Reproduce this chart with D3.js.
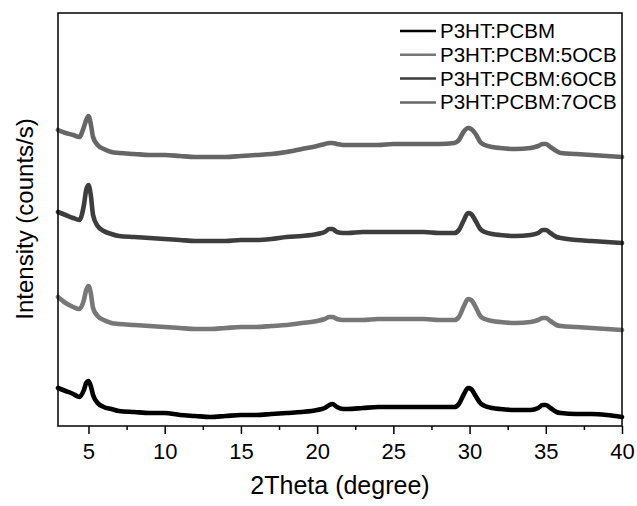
<!DOCTYPE html>
<html>
  <head>
    <meta charset="utf-8">
    <style>
      body { margin: 0; background: #fff; }
      text { font-family: "Liberation Sans", Arial, sans-serif; fill: #000; }
      .line { fill: none; stroke-width: 4.6px; stroke-linejoin: round; stroke-linecap: round; }
      .axis path { display: none; }
      .tick line { stroke: #000; stroke-width: 1.5px; }
    </style>
  </head>
  <body>
    <div id="chart"></div>
    <script src="https://d3js.org/d3.v7.min.js"></script>
    <script>
      // 2theta positions (degree)
      var twoTheta = [3, 3.5, 4, 4.4, 4.7, 4.85, 5, 5.15, 5.3, 5.6,
        6, 6.5, 7, 8, 9, 10, 11, 12, 13, 14,
        15, 16, 17, 18, 19, 20, 20.5, 20.8, 21, 21.3,
        21.7, 22, 23, 24, 25, 26, 27, 28, 29, 29.3,
        29.6, 29.9, 30.1, 30.4, 30.7, 31, 31.5, 32, 33, 34,
        34.5, 34.8, 35, 35.3, 35.7, 36, 37, 38, 39, 40];

      // intensities (arbitrary, stacked offsets as in the figure)
      var p3htPcbm = [38, 35, 32, 29, 36, 43, 45, 40, 31, 23,
        19, 17, 15, 14, 13, 13, 11, 10, 9, 10,
        11, 11, 12, 13, 14, 16, 18, 21, 22, 19,
        17, 17, 18, 19, 19, 19, 19, 19, 19, 22,
        31, 38, 37, 30, 23, 20, 18, 17, 16, 16,
        18, 21, 21, 18, 14, 13, 12, 12, 11, 9];

      var ocb5 = [129, 123, 119, 117, 126, 136, 140, 133, 118, 110,
        106, 103, 102, 101, 100, 99, 98, 97, 97, 98,
        99, 99, 100, 101, 103, 105, 107, 109, 109, 107,
        106, 106, 106, 107, 107, 107, 107, 106, 106, 109,
        119, 127, 126, 119, 110, 107, 105, 104, 103, 104,
        106, 108, 108, 105, 101, 100, 99, 98, 97, 96];

      var ocb6 = [214, 211, 208, 206, 221, 236, 241, 231, 211, 200,
        195, 192, 190, 189, 188, 187, 186, 185, 185, 185,
        186, 186, 187, 189, 190, 192, 194, 197, 197, 194,
        193, 193, 194, 194, 194, 194, 194, 193, 193, 196,
        205, 213, 212, 205, 197, 194, 192, 191, 190, 191,
        193, 196, 196, 193, 189, 188, 186, 185, 184, 183];

      var ocb7 = [296, 293, 291, 289, 299, 306, 310, 302, 289, 281,
        277, 274, 273, 272, 271, 271, 270, 269, 269, 269,
        270, 271, 272, 274, 277, 280, 282, 283, 283, 282,
        281, 281, 281, 281, 282, 282, 282, 282, 283, 286,
        294, 298, 297, 292, 284, 281, 279, 278, 277, 278,
        280, 282, 282, 279, 275, 273, 272, 271, 270, 269];

      var seriesNames = ["P3HT:PCBM", "P3HT:PCBM:5OCB", "P3HT:PCBM:6OCB", "P3HT:PCBM:7OCB"];
      var seriesColors = ["#000000", "#777777", "#3d3d3d", "#666666"];
      var seriesValues = [p3htPcbm, ocb5, ocb6, ocb7];

      var majorTicks = [5, 10, 15, 20, 25, 30, 35, 40];
      var minorTicks = [7.5, 12.5, 17.5, 22.5, 27.5, 32.5, 37.5];

      var margin = { top: 13, right: 15, bottom: 80, left: 58 };
      var width = 637 - margin.left - margin.right;
      var height = 506 - margin.top - margin.bottom;

      var root = d3.select("#chart")
        .append("svg")
          .attr("width", 637)
          .attr("height", 506);

      var svg = root.append("g")
          .attr("transform", "translate(" + margin.left + "," + margin.top + ")");

      var x = d3.scaleLinear()
        .domain([3, 40])
        .range([0, width]);

      var y = d3.scaleLinear()
        .domain([0, 413])
        .range([height, 0]);

      // minor ticks
      svg.append("g")
        .attr("class", "axis")
        .attr("transform", "translate(0," + height + ")")
        .call(d3.axisBottom(x).tickValues(minorTicks).tickSize(4).tickFormat(""));

      // major ticks + labels
      svg.append("g")
        .attr("class", "axis")
        .attr("transform", "translate(0," + height + ")")
        .call(d3.axisBottom(x).tickValues(majorTicks).tickSize(8).tickPadding(9).tickFormat(d3.format("d")))
        .selectAll("text")
          .style("font-size", "22px");

      var line = d3.line()
        .x(function (d) { return x(d[0]); })
        .y(function (d) { return y(d[1]); })
        .curve(d3.curveMonotoneX);

      seriesValues.forEach(function (vals, i) {
        var pts = twoTheta.map(function (t, j) { return [t, vals[j]]; });
        svg.append("path")
          .datum(pts)
          .attr("class", "line")
          .attr("stroke", seriesColors[i])
          .attr("d", line);
      });

      // frame
      svg.append("rect")
        .attr("width", width)
        .attr("height", height)
        .attr("fill", "none")
        .attr("stroke", "#000")
        .attr("stroke-width", 1.5);

      // legend
      var legend = svg.append("g")
        .attr("transform", "translate(" + (400 - margin.left) + ",25)");

      legend.selectAll("line")
        .data(seriesNames)
        .enter()
        .append("line")
          .attr("x1", 0)
          .attr("x2", 36)
          .attr("y1", function (d, i) { return i * 23.8 - 7; })
          .attr("y2", function (d, i) { return i * 23.8 - 7; })
          .attr("stroke", function (d, i) { return seriesColors[i]; })
          .attr("stroke-width", 2.5);

      legend.selectAll("text")
        .data(seriesNames)
        .enter()
        .append("text")
          .attr("x", 40)
          .attr("y", function (d, i) { return i * 23.8; })
          .style("font-size", "20.5px")
          .text(function (d) { return d; });

      // axis titles
      root.append("text")
        .attr("x", margin.left + width / 2)
        .attr("y", 494)
        .attr("text-anchor", "middle")
        .style("font-size", "25px")
        .text("2Theta (degree)");

      root.append("text")
        .attr("transform", "translate(33," + (margin.top + 206) + ") rotate(-90)")
        .attr("text-anchor", "middle")
        .style("font-size", "24px")
        .text("Intensity (counts/s)");
    </script>
  </body>
</html>
